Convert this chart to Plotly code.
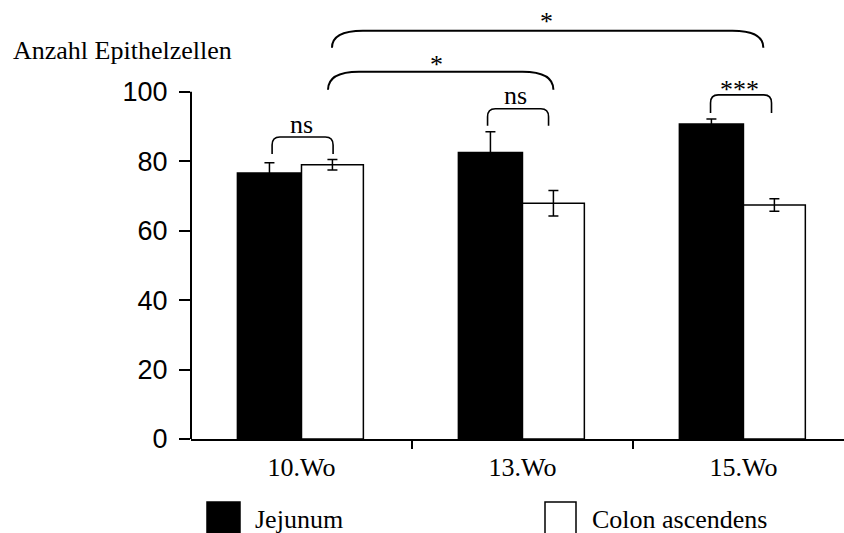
import plotly.graph_objects as go

# ---- data ----
categories = ["10.Wo", "13.Wo", "15.Wo"]
jejunum = [76.6, 82.5, 90.7]
jejunum_err = [3.0, 6.0, 1.5]
colon = [79.0, 67.9, 67.4]
colon_err = [1.5, 3.7, 1.8]
y_ticks = [0, 20, 40, 60, 80, 100]

# significance brackets: x0, x1, y_top, y_bottom, label, label_x, label_y
brackets = [
    (-0.133, 0.143, 87.0, 82.1, "ns", 0.00, 90.6),
    (0.842, 1.118, 95.1, 90.2, "ns", 0.97, 98.9),
    (1.851, 2.127, 99.1, 93.9, "***", 1.982, 100.6),
    (0.12, 1.14, 105.8, 100.6, "*", 0.61, 107.8),
    (0.138, 2.09, 117.6, 112.7, "*", 1.107, 120.2),
]

W, H = 844, 533
L, R, T, B = 191, 0, 5, 94
PW, PH = W - L - R, H - T - B

def px(xp):
    return (xp - L) / PW

def py(yp):
    return (H - B - yp) / PH

serif = "Liberation Serif"
sans = "Liberation Sans"

xpos = list(range(len(categories)))

fig = go.Figure()
fig.add_trace(go.Bar(
    x=xpos, y=jejunum, width=0.29, offset=-0.29,
    marker=dict(color="black", line=dict(color="black", width=1.5)),
    error_y=dict(type="data", array=jejunum_err, color="black", thickness=1.5, width=5),
    showlegend=False,
))
fig.add_trace(go.Bar(
    x=xpos, y=colon, width=0.28, offset=0.0,
    marker=dict(color="white", line=dict(color="black", width=1.5)),
    error_y=dict(type="data", array=colon_err, color="black", thickness=1.5, width=5),
    showlegend=False,
))

shapes = []
# y axis line from 0 to 100
shapes.append(dict(type="line", xref="paper", yref="y", x0=0, x1=0, y0=0, y1=max(y_ticks),
                   line=dict(color="black", width=2)))

for x0, x1, yt, yb, lab, lx, ly in brackets:
    big = (x1 - x0) > 0.5
    rx = 0.14 if big else 0.035
    ry = (yt - yb) if big else 2.3
    lw = 2 if big else 1.6
    path = (f"M {x0},{yb} L {x0},{yt - ry} Q {x0},{yt} {x0 + rx},{yt} "
            f"L {x1 - rx},{yt} Q {x1},{yt} {x1},{yt - ry} L {x1},{yb}")
    shapes.append(dict(type="path", xref="x", yref="y", path=path,
                       line=dict(color="black", width=lw)))
    fig.add_annotation(x=lx, y=ly, xref="x", yref="y", text=lab, showarrow=False,
                       font=dict(family=serif, size=26, color="black"),
                       xanchor="center", yanchor="middle")

# legend boxes
shapes.append(dict(type="rect", xref="paper", yref="paper", x0=px(207), x1=px(240),
                   y0=py(535), y1=py(502), fillcolor="black", line=dict(color="black", width=1.5)))
shapes.append(dict(type="rect", xref="paper", yref="paper", x0=px(545), x1=px(576),
                   y0=py(535), y1=py(502), fillcolor="white", line=dict(color="black", width=1.5)))

fig.add_annotation(x=px(253), y=py(519), xref="paper", yref="paper", text="Jejunum",
                   showarrow=False, xanchor="left", yanchor="middle",
                   font=dict(family=serif, size=26, color="black"))
fig.add_annotation(x=px(590), y=py(519), xref="paper", yref="paper", text="Colon ascendens",
                   showarrow=False, xanchor="left", yanchor="middle",
                   font=dict(family=serif, size=26, color="black"))
fig.add_annotation(x=px(11), y=py(51), xref="paper", yref="paper", text="Anzahl Epithelzellen",
                   showarrow=False, xanchor="left", yanchor="middle",
                   font=dict(family=serif, size=26, color="black"))

fig.update_layout(
    width=W, height=H,
    margin=dict(l=L, r=R, t=T, b=B, pad=0),
    paper_bgcolor="white", plot_bgcolor="white",
    barmode="overlay",
    shapes=shapes,
    xaxis=dict(
        range=[-0.5, 2.455], tickmode="array", tickvals=xpos, ticktext=categories,
        ticks="", showline=True, linecolor="black", linewidth=2,
        showgrid=False, zeroline=False, ticklabelstandoff=4,
        tickfont=dict(family=serif, size=26, color="black"),
        minor=dict(tickmode="array", tickvals=[0.5, 1.5], ticks="outside", ticklen=8,
                   tickwidth=2, tickcolor="black", showgrid=False),
    ),
    yaxis=dict(
        range=[0, 125], tickmode="array", tickvals=y_ticks,
        ticks="outside", ticklen=11, tickwidth=2, tickcolor="black",
        showline=False, showgrid=False, zeroline=False, ticklabelstandoff=6,
        tickfont=dict(family=sans, size=27, color="black"),
    ),
)

fig.write_html("out.html")
